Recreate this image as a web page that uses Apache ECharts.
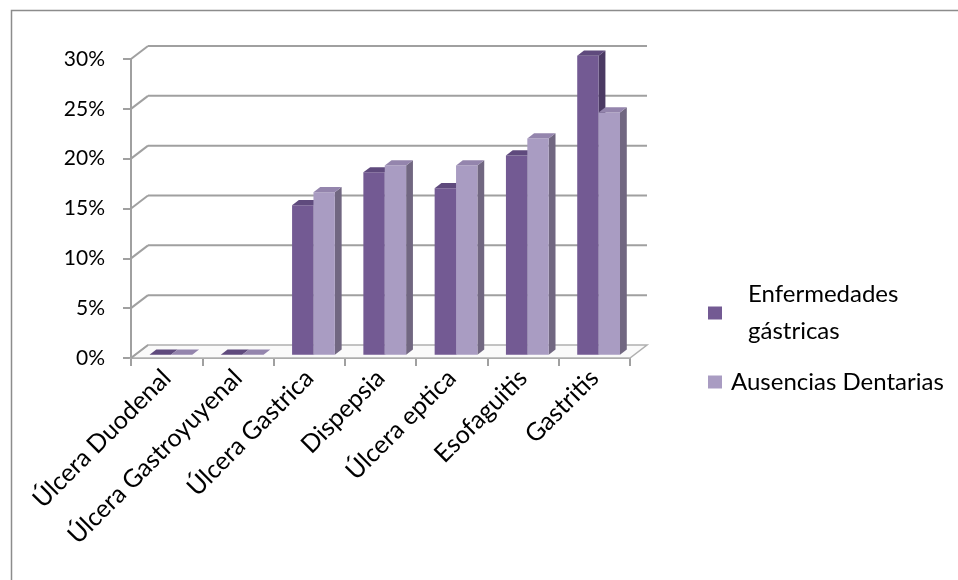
<!DOCTYPE html>
<html>
<head>
<meta charset="utf-8">
<script src="https://cdn.jsdelivr.net/npm/echarts@6/dist/echarts.min.js"></script>
<style>
html,body{margin:0;padding:0;background:#fff;}
#chart{width:958px;height:580px;}
</style>
</head>
<body>
<div id="chart"></div>
<script>
// ---- data ----
const categories = ['Úlcera Duodenal', 'Úlcera Gastroyuyenal', 'Úlcera Gastrica', 'Dispepsia', 'Úlcera eptica', 'Esofaguitis', 'Gastritis'];
const seriesNames = ['Enfermedades gástricas', 'Ausencias Dentarias'];
const enfermedades = [0, 0, 0.150, 0.183, 0.167, 0.200, 0.300];
const ausencias = [0, 0, 0.163, 0.190, 0.190, 0.217, 0.243];
const yMin = 0, yMax = 0.30, yStep = 0.05;

// ---- styling constants ----
const DX = 17, DY = -13;          // back-wall offset (3D depth)
const DF = 0.25, DB = 0.65;       // bar front / back depth fractions
const BAR_FRAC = 0.30;            // each bar width as fraction of band
const palette = [
  {front: '#735a93', top: '#5f4a7d', side: '#4b3a63'},
  {front: '#a99cc2', top: '#9485ad', side: '#716781'}
];
const labelFont = 'Lato, "Open Sans", sans-serif';

const chart = echarts.init(document.getElementById('chart'), null, {renderer: 'canvas'});

function wallRender(params, api) {
  const n = categories.length;
  const band = api.size([1, 0])[0];
  const xL = api.coord([0, yMin])[0] - band / 2;
  const xR = api.coord([n - 1, yMin])[0] + band / 2;
  const y0 = api.coord([0, yMin])[1];
  const children = [];
  children.push({
    type: 'polygon',
    shape: {points: [[xL, y0], [xR, y0], [xR + DX, y0 + DY], [xL + DX, y0 + DY]]},
    style: {fill: '#fafafa', stroke: '#b0b0b0', lineWidth: 1.5}
  });
  for (let v = yMin; v <= yMax + 1e-9; v += yStep) {
    const yv = api.coord([0, v])[1];
    if (v > yMin + 1e-9) {
      children.push({
        type: 'line',
        shape: {x1: xL + DX, y1: yv + DY, x2: xR + DX, y2: yv + DY},
        style: {stroke: '#a0a0a0', lineWidth: 2}
      });
    }
    children.push({
      type: 'line',
      shape: {x1: xL, y1: yv, x2: xL + DX, y2: yv + DY},
      style: {stroke: '#a0a0a0', lineWidth: 2}
    });
  }
  return {type: 'group', children: children};
}

function makeBarSeries(idx, values) {
  const col = palette[idx];
  return {
    name: seriesNames[idx],
    type: 'custom',
    z: 3 + idx,
    clip: false,
    itemStyle: {color: col.front},
    encode: {x: 0, y: 1},
    data: values.map((v, i) => [i, v]),
    renderItem: function (params, api) {
      const i = api.value(0), v = api.value(1);
      const base = api.coord([i, 0]);
      const topP = api.coord([i, v]);
      const band = api.size([1, 0])[0];
      const bw = band * BAR_FRAC;
      const fx = DX * DF, fy = DY * DF;
      const bx = DX * (DB - DF), by = DY * (DB - DF);
      const x0 = base[0] + (idx === 0 ? -bw : 0) + fx;
      const x1 = x0 + bw;
      const yb = base[1] + fy;
      const yt = topP[1] + fy;
      return {
        type: 'group',
        children: [
          {type: 'polygon', shape: {points: [[x1, yt], [x1 + bx, yt + by], [x1 + bx, yb + by], [x1, yb]]},
           style: {fill: col.side}},
          {type: 'rect', shape: {x: x0, y: yt, width: bw, height: yb - yt},
           style: {fill: col.front}},
          {type: 'polygon', shape: {points: [[x0, yt], [x1, yt], [x1 + bx, yt + by], [x0 + bx, yt + by]]},
           style: {fill: col.top}}
        ]
      };
    }
  };
}

const option = {
  backgroundColor: '#ffffff',
  animation: false,
  graphic: [{
    type: 'rect', left: 9, top: 8, z: -10,
    shape: {x: 0, y: 0, width: 1000, height: 620},
    style: {fill: 'none', stroke: '#8c8c8c', lineWidth: 1.5}
  }],
  grid: {left: 131, top: 59, width: 499, height: 299, containLabel: false},
  xAxis: {
    type: 'category',
    data: categories,
    boundaryGap: true,
    axisLine: {show: true, lineStyle: {color: '#a0a0a0', width: 2}},
    axisTick: {show: true, length: 8, alignWithLabel: false, lineStyle: {color: '#a0a0a0', width: 2}},
    axisLabel: {rotate: 45, margin: 16, color: '#000', fontSize: 25, fontFamily: labelFont, interval: 0},
    splitLine: {show: false}
  },
  yAxis: {
    type: 'value',
    min: yMin, max: yMax, interval: yStep,
    axisLine: {show: true, lineStyle: {color: '#a0a0a0', width: 2}},
    axisTick: {show: true, length: 8, lineStyle: {color: '#a0a0a0', width: 2}},
    axisLabel: {margin: 26, color: '#000', fontSize: 21, fontFamily: labelFont,
      formatter: v => Math.round(v * 100) + '%'},
    splitLine: {show: false}
  },
  legend: [
    {
      data: [{name: seriesNames[0], icon: 'rect'}],
      left: 708, top: 276, padding: 0,
      itemWidth: 14, itemHeight: 13,
      formatter: () => 'Enfermedades\ngástricas',
      textStyle: {fontSize: 24, lineHeight: 37, color: '#000', fontFamily: labelFont, padding: [0, 0, 0, 21]}
    },
    {
      data: [{name: seriesNames[1], icon: 'rect'}],
      left: 708, top: 368, padding: 0,
      itemWidth: 14, itemHeight: 13,
      textStyle: {fontSize: 24, lineHeight: 28, color: '#000', fontFamily: labelFont, padding: [0, 0, 0, 4]}
    }
  ],
  series: [
    {
      type: 'custom', z: 1, clip: false, silent: true,
      encode: {x: 0, y: 1},
      data: [[0, 0]],
      renderItem: wallRender
    },
    makeBarSeries(0, enfermedades),
    makeBarSeries(1, ausencias)
  ]
};
chart.setOption(option);
</script>
</body>
</html>
